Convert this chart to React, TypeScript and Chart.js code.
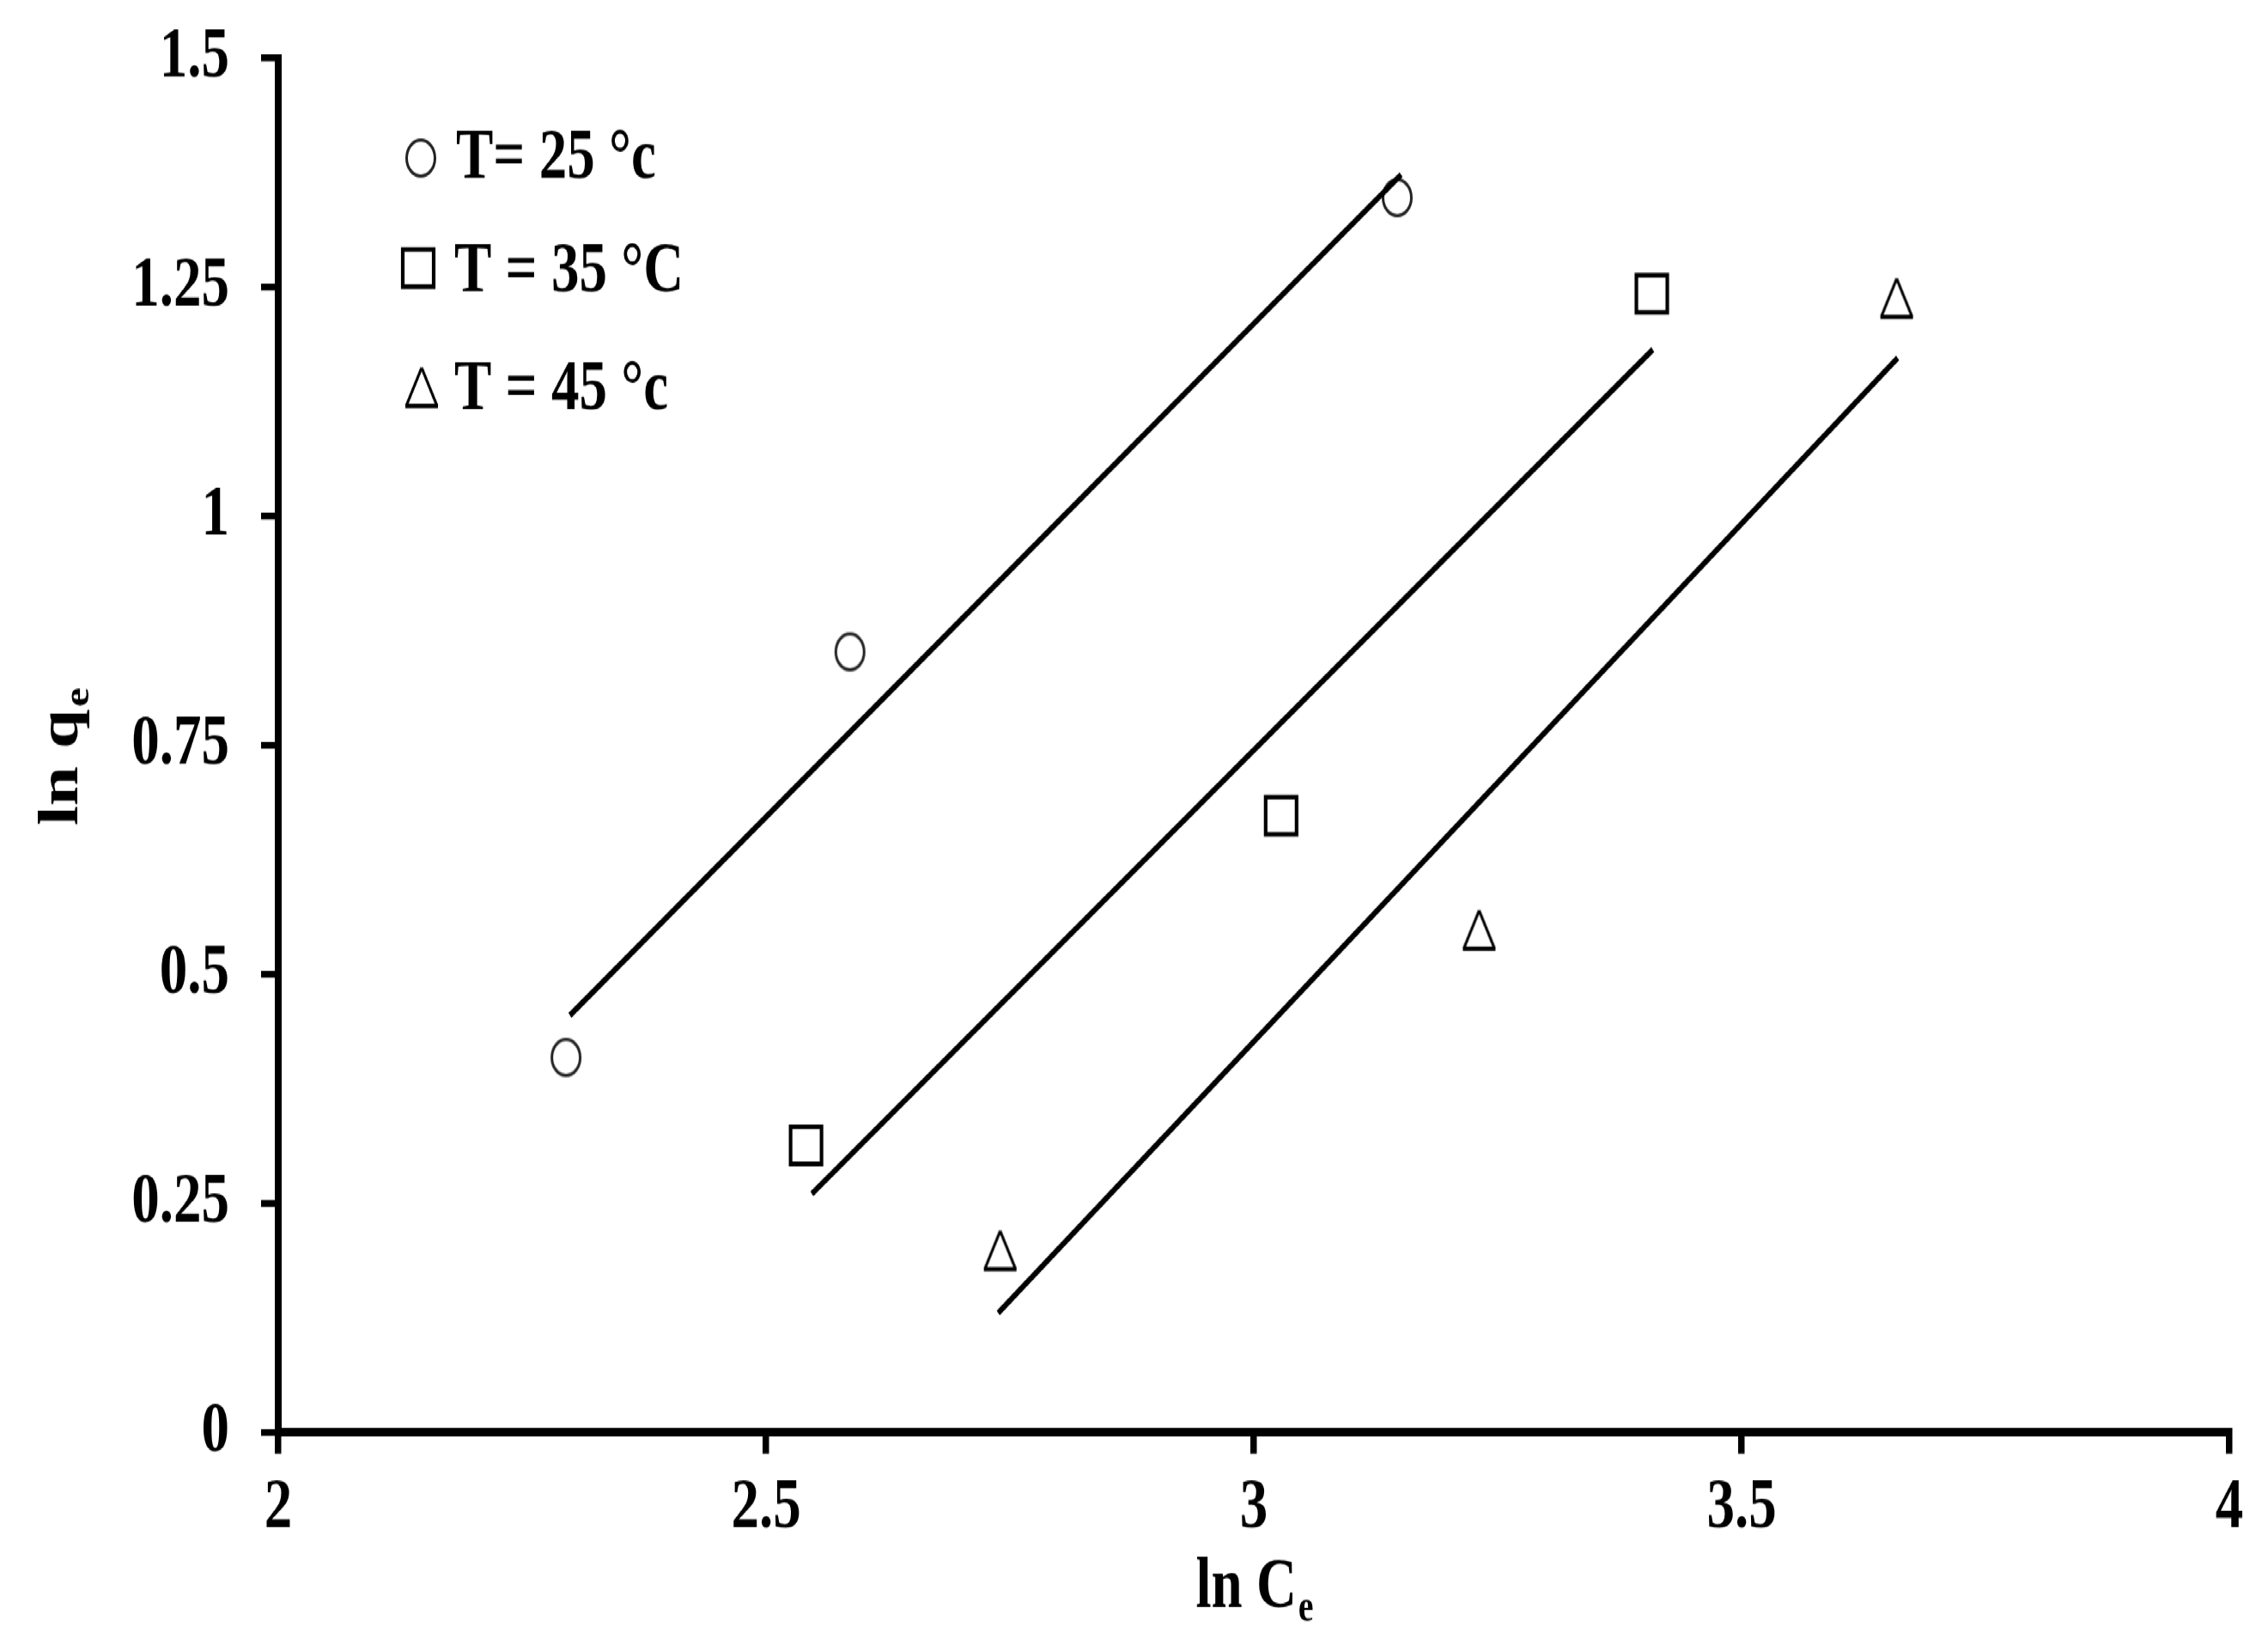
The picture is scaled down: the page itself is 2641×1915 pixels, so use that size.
import React, { useEffect, useRef } from 'react';
import { Chart, registerables } from 'chart.js';

Chart.register(...registerables);

// ---- data ----
const lnCe25 = [2.295, 2.586, 3.147];
const lnQe25 = [0.409, 0.852, 1.348];
const lnCe35 = [2.541, 3.028, 3.408];
const lnQe35 = [0.313, 0.673, 1.243];
const lnCe45 = [2.74, 3.231, 3.659];
const lnQe45 = [0.198, 0.548, 1.238];

const fitX25 = [2.299, 3.151];
const fitY25 = [0.455, 1.373];
const fitX35 = [2.547, 3.409];
const fitY35 = [0.26, 1.182];
const fitX45 = [2.738, 3.66];
const fitY45 = [0.13, 1.173];

const xTickValues = [2, 2.5, 3, 3.5, 4];
const xTickLabels = ['2', '2.5', '3', '3.5', '4'];
const yTickValues = [0, 0.25, 0.5, 0.75, 1, 1.25, 1.5];
const yTickLabels = ['0', '0.25', '0.5', '0.75', '1', '1.25', '1.5'];
const legendLabels = ['T= 25 \u00B0c', 'T = 35 \u00B0C', 'T = 45 \u00B0c'];

const FONT = '"Liberation Serif", "Times New Roman", serif';

// The reference picture is stretched vertically; the chart is drawn on a
// shorter canvas and scaled up in y to the full page height.
const W = 2641;
const H = 1508;
const S = 1915 / H;

function pts(xs: number[], ys: number[]) {
  return xs.map((x, i) => ({ x, y: ys[i] }));
}

function makeMarker(kind: 'circle' | 'square' | 'triangle'): HTMLCanvasElement {
  const c = document.createElement('canvas');
  c.width = 46;
  c.height = 44;
  const ctx = c.getContext('2d')!;
  ctx.strokeStyle = '#000';
  if (kind === 'circle') {
    ctx.strokeStyle = '#222';
    ctx.lineWidth = 3;
    ctx.beginPath();
    ctx.ellipse(23, 22, 16.5, 16.5, 0, 0, Math.PI * 2);
    ctx.stroke();
  } else if (kind === 'square') {
    ctx.lineWidth = 4.2;
    ctx.strokeRect(5, 5, 36, 34);
  } else {
    ctx.lineWidth = 3;
    ctx.beginPath();
    ctx.moveTo(23, 4);
    ctx.lineTo(41, 39);
    ctx.moveTo(23, 4);
    ctx.lineTo(5, 39);
    ctx.stroke();
    ctx.lineWidth = 4.2;
    ctx.beginPath();
    ctx.moveTo(4, 39);
    ctx.lineTo(42, 39);
    ctx.stroke();
  }
  return c;
}

function drawSubText(
  ctx: CanvasRenderingContext2D,
  main: string,
  sub: string,
  cx: number,
  baseline: number,
  size: number,
  subSize: number,
  subDrop: number
) {
  ctx.font = `bold ${size}px ${FONT}`;
  const w1 = ctx.measureText(main).width;
  ctx.font = `bold ${subSize}px ${FONT}`;
  const w2 = ctx.measureText(sub).width;
  const start = cx - (w1 + w2) / 2;
  ctx.textAlign = 'left';
  ctx.textBaseline = 'alphabetic';
  ctx.font = `bold ${size}px ${FONT}`;
  ctx.fillText(main, start, baseline);
  ctx.font = `bold ${subSize}px ${FONT}`;
  ctx.fillText(sub, start + w1 + 2, baseline + subDrop);
}

export default function App() {
  const ref = useRef<HTMLCanvasElement | null>(null);

  useEffect(() => {
    if (!ref.current) return;
    const circle = makeMarker('circle');
    const square = makeMarker('square');
    const triangle = makeMarker('triangle');
    const markers = [circle, square, triangle];

    const overlay = {
      id: 'overlay',
      afterDraw(chart: any) {
        const ctx = chart.ctx as CanvasRenderingContext2D;
        const area = chart.chartArea;
        ctx.save();
        ctx.fillStyle = '#000';
        // legend
        const rows = [
          { mx: 490, my: 184 / S, tx: 531, ty: 207 / S },
          { mx: 487, my: 312 / S, tx: 529, ty: 339 / S },
          { mx: 491, my: 451 / S, tx: 529, ty: 476 / S },
        ];
        rows.forEach((r, i) => {
          const m = markers[i];
          ctx.drawImage(m, r.mx - m.width / 2, r.my - m.height / 2);
          ctx.font = `bold 65px ${FONT}`;
          ctx.textAlign = 'left';
          ctx.textBaseline = 'alphabetic';
          ctx.fillText(legendLabels[i], r.tx, r.ty);
        });
        // x title
        const cx = (area.left + area.right) / 2;
        drawSubText(ctx, 'ln C', 'e', cx, 1870 / S, 65, 40, 13);
        // y title
        ctx.translate(90, 882 / S);
        ctx.rotate(-Math.PI / 2);
        drawSubText(ctx, 'ln q', 'e', 0, 0, 65, 40, 13);
        ctx.restore();
      },
    };

    const lineDs = (xs: number[], ys: number[]) => ({
      data: pts(xs, ys),
      showLine: true,
      borderColor: '#000',
      borderWidth: 5.5,
      pointRadius: 0,
      pointHoverRadius: 0,
      fill: false,
    });
    const markDs = (xs: number[], ys: number[], m: HTMLCanvasElement) => ({
      data: pts(xs, ys),
      showLine: false,
      pointStyle: m,
      pointRadius: 20,
      pointHoverRadius: 20,
      borderColor: '#000',
      backgroundColor: 'transparent',
    });

    const chart = new Chart(ref.current, {
      type: 'scatter',
      data: {
        datasets: [
          lineDs(fitX25, fitY25),
          lineDs(fitX35, fitY35),
          lineDs(fitX45, fitY45),
          markDs(lnCe25, lnQe25, circle),
          markDs(lnCe35, lnQe35, square),
          markDs(lnCe45, lnQe45, triangle),
        ] as any,
      },
      options: {
        animation: false,
        responsive: false,
        devicePixelRatio: 1,
        layout: { padding: { top: 68 / S, right: 45, left: 0, bottom: 0 } },
        plugins: { legend: { display: false }, tooltip: { enabled: false } },
        scales: {
          x: {
            type: 'linear',
            min: 2,
            max: 4,
            afterBuildTicks: (s: any) => {
              s.ticks = xTickValues.map((v) => ({ value: v }));
            },
            afterFit: (s: any) => {
              s.height = H - 1667 / S;
              s.paddingLeft = 0;
              s.paddingRight = 0;
            },
            ticks: {
              callback: (v: any) => {
                const i = xTickValues.indexOf(Number(v));
                return i >= 0 ? xTickLabels[i] : '';
              },
              color: '#000',
              padding: 11,
              maxRotation: 0,
              font: { family: FONT, size: 65, weight: 'bold' },
            },
            grid: {
              drawOnChartArea: false,
              drawTicks: true,
              tickLength: 20,
              color: '#000',
              lineWidth: 7.5,
            },
            border: { display: true, color: '#000', width: 8 },
          },
          y: {
            type: 'linear',
            min: 0,
            max: 1.5,
            afterBuildTicks: (s: any) => {
              s.ticks = yTickValues.map((v) => ({ value: v }));
            },
            afterFit: (s: any) => {
              s.width = 324;
              s.paddingTop = 0;
              s.paddingBottom = 0;
            },
            ticks: {
              callback: (v: any) => {
                const i = yTickValues.indexOf(Number(v));
                return i >= 0 ? yTickLabels[i] : '';
              },
              color: '#000',
              padding: 37,
              font: { family: FONT, size: 65, weight: 'bold' },
            },
            grid: {
              drawOnChartArea: false,
              drawTicks: true,
              tickLength: 20,
              color: '#000',
              lineWidth: 6.3,
            },
            border: { display: true, color: '#000', width: 8 },
          },
        },
      } as any,
      plugins: [overlay],
    });
    return () => chart.destroy();
  }, []);

  return (
    <div
      style={{
        position: 'fixed',
        left: 0,
        top: 0,
        width: W,
        height: H,
        background: '#fff',
        transform: `scaleY(${S})`,
        transformOrigin: 'top left',
      }}
    >
      <canvas ref={ref} width={W} height={H} style={{ display: 'block', width: W, height: H }} />
    </div>
  );
}
